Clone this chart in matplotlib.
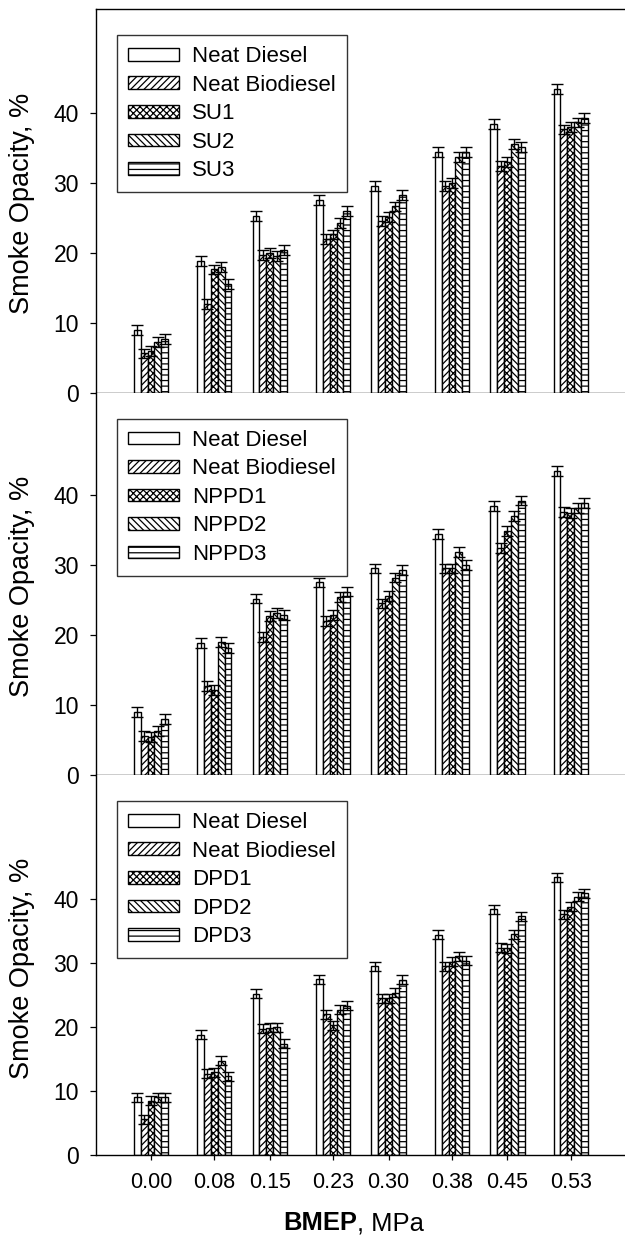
import matplotlib.pyplot as plt

plt.rcParams['font.family'] = ['Liberation Sans', 'DejaVu Sans']
plt.rcParams['hatch.linewidth'] = 0.9
plt.rcParams['hatch.color'] = 'black'

# --- data ---
bmep = [0.00, 0.08, 0.15, 0.23, 0.30, 0.38, 0.45, 0.53]
bmep_labels = ['0.00', '0.08', '0.15', '0.23', '0.30', '0.38', '0.45', '0.53']

neat_diesel = [9.0, 18.8, 25.2, 27.5, 29.5, 34.4, 38.4, 43.4]
neat_biodiesel = [5.6, 12.7, 19.7, 22.0, 24.5, 29.5, 32.4, 37.6]

su1 = [6.0, 17.6, 19.9, 22.6, 25.1, 29.9, 32.9, 37.9]
su2 = [7.2, 18.0, 19.5, 24.2, 26.6, 33.7, 35.5, 38.6]
su3 = [7.7, 15.5, 20.4, 26.0, 28.2, 34.4, 35.1, 39.2]

nppd1 = [5.4, 12.1, 22.7, 22.9, 25.6, 29.5, 34.9, 37.4]
nppd2 = [6.3, 19.0, 23.1, 25.4, 28.2, 31.9, 37.0, 38.1]
nppd3 = [8.0, 18.1, 22.8, 26.2, 29.3, 30.0, 39.2, 38.9]

dpd1 = [8.5, 12.9, 19.9, 20.3, 24.5, 30.2, 32.3, 38.8]
dpd2 = [9.0, 14.7, 20.0, 22.7, 25.4, 31.1, 34.5, 40.4]
dpd3 = [9.0, 12.3, 17.4, 23.3, 27.4, 30.4, 37.3, 40.9]

err = 0.7

panels = [
    (['SU1', 'SU2', 'SU3'], [su1, su2, su3], 54.8),
    (['NPPD1', 'NPPD2', 'NPPD3'], [nppd1, nppd2, nppd3], 54.6),
    (['DPD1', 'DPD2', 'DPD3'], [dpd1, dpd2, dpd3], 59.4),
]

hatches = ['', '/////', 'xxxxx', '\\\\\\\\\\', '---']
bar_w = 0.00867

W, H = 625, 1236
fig = plt.figure(figsize=(W / 100, H / 100), dpi=100)

# axes boxes in pixels: (top, bottom)
boxes = [(9, 392.7), (392.7, 775), (775, 1155)]
left_px = 96

for k, ((names, series, ytop), (t, b)) in enumerate(zip(panels, boxes)):
    ax = fig.add_axes([left_px / W, 1 - b / H, (W - left_px) / W, (b - t) / H])
    labels = ['Neat Diesel', 'Neat Biodiesel'] + names
    data = [neat_diesel, neat_biodiesel] + series
    for i, (lab, vals, h) in enumerate(zip(labels, data, hatches)):
        x = [v + (i - 2) * bar_w for v in bmep]
        ax.bar(x, vals, width=bar_w, facecolor='white', edgecolor='black',
               hatch=h, linewidth=1.0, label=lab, yerr=err,
               error_kw=dict(ecolor='black', elinewidth=1.0, capsize=4.3, capthick=1.0))

    ax.set_xlim(-0.0694, 0.5985)
    ax.set_ylim(0, ytop)
    ax.set_yticks([0, 10, 20, 30, 40])
    ax.set_xticks(bmep)
    ax.tick_params(axis='y', direction='out', length=4.3, width=0.9, labelsize=16.5, pad=8)
    ax.tick_params(axis='x', direction='out', length=3.6, width=0.9, labelsize=15.5, pad=9)
    if k == 2:
        ax.set_xticklabels(bmep_labels)
    else:
        ax.set_xticklabels([])
    ax.spines['right'].set_visible(False)
    ax.spines['top'].set_visible(k == 0)
    for s in ax.spines.values():
        s.set_linewidth(1.0)

    leg = ax.legend(loc='upper left', bbox_to_anchor=(116.7 / W, 1 - (t + 26) / H),
                    bbox_transform=fig.transFigure, borderaxespad=0, fontsize=16,
                    frameon=True, fancybox=False, edgecolor='black',
                    handlelength=2.3, handleheight=0.5, handletextpad=0.58,
                    borderpad=0.5, labelspacing=0.34)
    leg.get_frame().set_linewidth(1.0)

    fig.text(21.7 / W, 1 - ((t + b) / 2 + 3) / H, 'Smoke Opacity, %', rotation=90,
             fontsize=19.5, ha='center', va='center')

fig.text(356.7 / W, 1 - 1223 / H, 'BMEP', fontsize=18.4, fontweight='bold',
         ha='right', va='center')
fig.text(356.7 / W, 1 - 1223 / H, ', MPa', fontsize=18.4, ha='left', va='center')

fig.savefig('out.png', dpi=100)
plt.close(fig)
